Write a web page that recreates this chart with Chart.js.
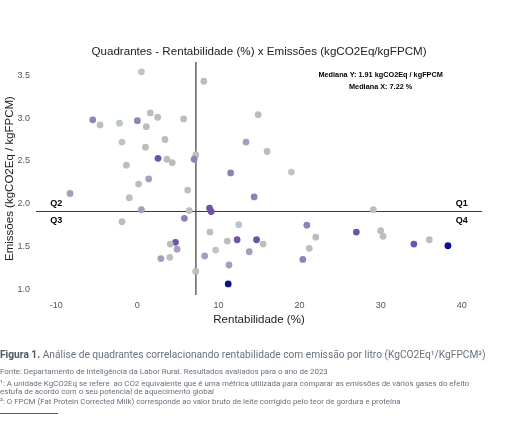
<!DOCTYPE html>
<html>
<head>
<meta charset="utf-8">
<script src="https://cdn.jsdelivr.net/npm/chart.js@4.4.1/dist/chart.umd.min.js"></script>
<style>
  body { margin: 0; background: #fff; }
  #wrap { position: relative; width: 510px; height: 427px; overflow: hidden; }
  #chart { position: absolute; left: 0; top: 0; }
  .cap { position: absolute; left: 0; white-space: nowrap; font-family: "Liberation Sans Narrow", "Roboto", sans-serif; color: #66717c; line-height: 1; }
  .cap1 { top: 350px; font-size: 10.2px; }
  .cap1 b { color: #4e5963; }
  .cap2 { font-size: 7.9px; }
  #rule { position: absolute; left: 0; top: 413px; width: 58px; height: 1px; background: #55606a; }
</style>
</head>
<body>
<div id="wrap">
  <canvas id="chart" width="510" height="427"></canvas>
  <div class="cap cap1"><b>Figura 1.</b> Análise de quadrantes correlacionando rentabilidade com emissão por litro (KgCO2Eq¹/KgFPCM²)</div>
  <div class="cap cap2" style="top:368px">Fonte: Departamento de Inteligência da Labor Rural. Resultados avaliados para o ano de 2023</div>
  <div class="cap cap2" style="top:380px">¹: A unidade KgCO2Eq se refere&nbsp; ao CO2 equivalente que é uma métrica utilizada para comparar as emissões de vários gases do efeito</div>
  <div class="cap cap2" style="top:388px">estufa de acordo com o seu potencial de aquecimento global</div>
  <div class="cap cap2" style="top:398px">²: O FPCM (Fat Protein Corrected Milk) corresponde ao valor bruto de leite corrigido pelo teor de gordura e proteína</div>
  <div id="rule"></div>
</div>
<script>
// data
var rentabilidade = [0.5, 8.2, -5.5, -4.6, -2.2, 0.0, 1.6, 2.5, 1.1, 5.7, 14.9, -1.9, 3.4, 1.0, 2.55, 3.65,
  4.3, 7.2, 7.0, 13.4, -1.35, 11.5, 1.4, 0.15, -8.3, 6.2, -1.0, 14.4, 16.0, 19.0, 0.5, 6.4,
  8.9, 9.1, -1.9, 5.8, 12.5, 8.95, 4.7, 4.05, 4.9, 11.1, 12.3, 14.7, 9.65, 13.8, 2.9, 4.0,
  8.3, 11.3, 7.2, 11.2, 20.9, 22.0, 15.5, 21.2, 20.4, 29.1, 27.0, 30.0, 30.3, 34.1, 36.0, 38.3];
var emissoes = [3.54, 3.43, 2.98, 2.92, 2.94, 2.97, 3.06, 3.01, 2.90, 2.99, 3.04, 2.72, 2.75, 2.66, 2.53, 2.52,
  2.48, 2.57, 2.52, 2.72, 2.45, 2.36, 2.29, 2.23, 2.12, 2.16, 2.07, 2.08, 2.61, 2.37, 1.93, 1.92,
  1.95, 1.91, 1.79, 1.83, 1.755, 1.67, 1.55, 1.53, 1.47, 1.565, 1.58, 1.58, 1.46, 1.44, 1.36, 1.375,
  1.39, 1.285, 1.21, 1.064, 1.75, 1.61, 1.53, 1.48, 1.35, 1.93, 1.67, 1.685, 1.62, 1.53, 1.58, 1.51];
// colour group of each farm (0 = grey ... 5 = navy)
var grupo = [1, 0, 3, 0, 1, 3, 0, 0, 0, 0, 0, 1, 0, 0, 4, 0,
  0, 0, 3, 2, 0, 3, 2, 0, 2, 0, 0, 3, 0, 1, 2, 0,
  4, 4, 0, 3, 1, 0, 4, 0, 2, 0, 4, 4, 1, 2, 2, 0,
  2, 2, 0, 5, 3, 0, 0, 0, 3, 0, 4, 0, 0, 4, 0, 5];
var medianaX = 7.22;
var medianaY = 1.91;
var xTicks = [-10, 0, 10, 20, 30, 40];
var yTicks = [1.0, 1.5, 2.0, 2.5, 3.0, 3.5];
var quadrantes = [
  { label: 'Q1', x: 40, y: 2.0 },
  { label: 'Q2', x: -10, y: 2.0 },
  { label: 'Q3', x: -10, y: 1.8 },
  { label: 'Q4', x: 40, y: 1.8 }
];
var titulo = 'Quadrantes - Rentabilidade (%) x Emissões (kgCO2Eq/kgFPCM)';

var paleta = ['#bdbdbd', '#b9c5c9', '#a99cc0', '#9280b8', '#6d54a9', '#0e0e8e'];
var fonte = '"Liberation Sans", Arial, sans-serif';

var pontos = rentabilidade.map(function (x, i) { return { x: x, y: emissoes[i] }; });

var medianas = {
  id: 'medianas',
  beforeDatasetsDraw: function (chart) {
    var ctx = chart.ctx, a = chart.chartArea;
    var px = chart.scales.x.getPixelForValue(medianaX);
    var py = chart.scales.y.getPixelForValue(medianaY);
    ctx.save();
    ctx.strokeStyle = '#3a3a3a';
    ctx.lineWidth = 1.2;
    ctx.beginPath();
    ctx.moveTo(px, a.top); ctx.lineTo(px, a.bottom);
    ctx.moveTo(a.left, py); ctx.lineTo(a.right, py);
    ctx.stroke();
    ctx.restore();
  },
  afterDatasetsDraw: function (chart) {
    var ctx = chart.ctx, a = chart.chartArea, sx = chart.scales.x, sy = chart.scales.y;
    ctx.save();
    ctx.textAlign = 'center';
    ctx.textBaseline = 'middle';
    // title centred over the panel
    ctx.fillStyle = '#222';
    ctx.font = '11.6px ' + fonte;
    ctx.fillText(titulo, (a.left + a.right) / 2, a.top - 10.5);
    ctx.fillStyle = '#000';
    ctx.font = 'bold 9px ' + fonte;
    quadrantes.forEach(function (q) {
      ctx.fillText(q.label, sx.getPixelForValue(q.x), sy.getPixelForValue(q.y));
    });
    ctx.font = 'bold 7.3px ' + fonte;
    ctx.fillText('Mediana Y: ' + medianaY + ' kgCO2Eq / kgFPCM', sx.getPixelForValue(30), sy.getPixelForValue(3.5));
    ctx.fillText('Mediana X: ' + medianaX + ' %', sx.getPixelForValue(30), sy.getPixelForValue(3.36));
    ctx.restore();
  }
};

new Chart(document.getElementById('chart'), {
  type: 'scatter',
  data: {
    datasets: [{
      data: pontos,
      pointRadius: 3.4,
      pointBorderWidth: 0,
      pointBackgroundColor: grupo.map(function (g) { return paleta[g]; }),
      pointBorderColor: grupo.map(function (g) { return paleta[g]; })
    }]
  },
  options: {
    responsive: false,
    animation: false,
    layout: { padding: { left: 0, right: 28, top: 62, bottom: 100 } },
    plugins: {
      legend: { display: false },
      tooltip: { enabled: false },
      title: { display: false }
    },
    scales: {
      x: {
        type: 'linear',
        min: -12.5,
        max: 42.5,
        grid: { display: false, drawTicks: false },
        border: { display: false },
        ticks: { color: '#555', font: { family: fonte, size: 9 }, padding: 5, maxRotation: 0, autoSkip: false },
        afterBuildTicks: function (s) { s.ticks = xTicks.map(function (v) { return { value: v }; }); },
        afterFit: function (s) { s.height = 32; },
        title: { display: true, text: 'Rentabilidade (%)', color: '#222', font: { family: fonte, size: 11.5 }, padding: 0 }
      },
      y: {
        type: 'linear',
        min: 0.935,
        max: 3.655,
        grid: { display: false, drawTicks: false },
        border: { display: false },
        ticks: {
          color: '#555', font: { family: fonte, size: 9 }, padding: 6, autoSkip: false,
          callback: function (v) { return v.toFixed(1); }
        },
        afterBuildTicks: function (s) { s.ticks = yTicks.map(function (v) { return { value: v }; }); },
        afterFit: function (s) { s.width = 36; },
        title: { display: true, text: 'Emissões (kgCO2Eq / kgFPCM)', color: '#222', font: { family: fonte, size: 11.5 }, padding: { top: 3, bottom: 0 } }
      }
    }
  },
  plugins: [medianas]
});
</script>
</body>
</html>
